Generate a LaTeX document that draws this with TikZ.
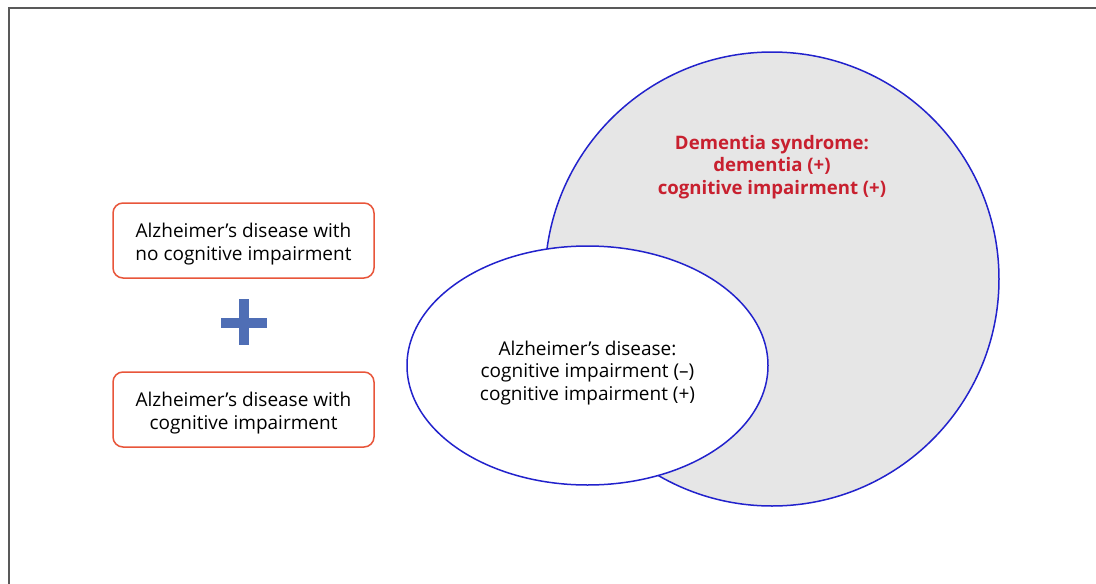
\documentclass[tikz,border=0pt]{standalone}
\usepackage{fontspec}
\setmainfont{Open Sans}
\usetikzlibrary{shapes.geometric}
\definecolor{BoxRed}{RGB}{232, 85, 58}
\definecolor{RingBlue}{RGB}{34, 34, 204}
\definecolor{PlusBlue}{RGB}{79, 110, 181}
\definecolor{DemRed}{RGB}{200, 32, 47}
\definecolor{SynGray}{RGB}{230, 230, 230}
\tikzset{
  adbox/.style={draw=BoxRed, line width=1.5pt, rounded corners=10pt, fill=white,
    minimum width=261pt, minimum height=75pt, inner sep=0pt},
  adtext/.style={align=center, inner sep=0pt, font=\fontsize{19}{22.5}\selectfont},
  venn/.style={draw=RingBlue, line width=1.5pt, inner sep=0pt}
}

\begin{document}
\begin{tikzpicture}[x=1pt,y=1pt,yscale=-1,xscale=1]
		% Set diagram size to the full page
		\useasboundingbox (0,0) rectangle (1096,584);

		% Draw the frame (only top and left edge are seen)
		\draw[line width=1.5pt, black!65] (8,8) -- (1096,8);
		\draw[line width=1.5pt, black!65] (9,8) -- (9,584);

		% The big gray circle for the syndrome
		\node[venn, circle, fill=SynGray, minimum size=454pt] (syndrome) at (772,279) {};

		% The red text inside the circle
		\node[adtext, text=DemRed, font=\fontsize{18.6}{22.5}\selectfont\bfseries] (dementia) at (772,167) {Dementia syndrome:\\dementia (+)\\cognitive impairment (+)};

		% The white ellipse for the disease, and its text
		\node[venn, ellipse, fill=white, minimum width=361pt, minimum height=239pt] (disease) at (587.5,365.5) {};
		\node[adtext] (diseasetext) at (587.5,373) {Alzheimer’s disease:\\cognitive impairment (–)\\cognitive impairment (+)};

		% The two boxes on the left
		\node[adbox] (nocog) at (243.5,240.5) {};
		\node[adtext] (nocogtext) at (243.5,244) {Alzheimer’s disease with\\no cognitive impairment};
		\node[adbox] (withcog) at (243.5,409.5) {};
		\node[adtext] (withcogtext) at (243.5,413) {Alzheimer’s disease with\\cognitive impairment};

		% The blue plus between the boxes
		\fill[PlusBlue] (221,317.5) rectangle (267,328);
		\fill[PlusBlue] (238.5,299) rectangle (249,345);
	\end{tikzpicture}
\end{document}
